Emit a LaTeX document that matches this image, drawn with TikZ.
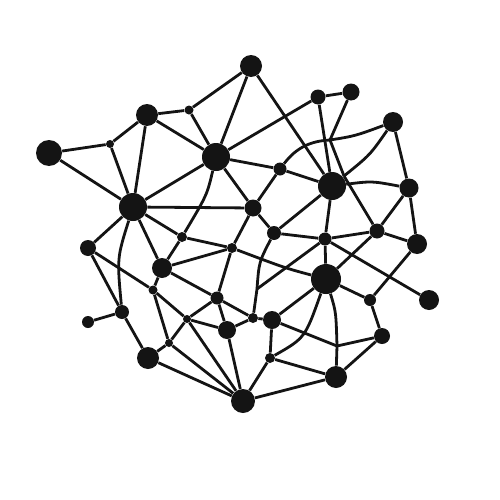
\documentclass[tikz,border=0pt]{standalone}
\definecolor{ink}{HTML}{141414}
\begin{document}
\begin{tikzpicture}[x=0.2mm,y=-0.2mm,
  dot/.style={circle,fill=ink,draw=none,inner sep=0pt,minimum size=#1*0.4mm},
  link/.style={draw=ink,line width=0.56mm}]
\useasboundingbox (0,0) rectangle (500,500);
\node[dot=13] (A) at (49,153) {};
\node[dot=11] (B) at (147,115) {};
\node[dot=4] (C) at (110,144) {};
\node[dot=4.5] (D) at (189,110) {};
\node[dot=11] (E) at (251,66) {};
\node[dot=14] (F) at (216,157) {};
\node[dot=14] (G) at (133,207) {};
\node[dot=8.5] (H) at (253,208) {};
\node[dot=6.5] (I) at (280,169) {};
\node[dot=7.5] (J) at (318,97) {};
\node[dot=8.5] (K) at (351,92) {};
\node[dot=10] (L) at (393,122) {};
\node[dot=14] (M) at (332,186) {};
\node[dot=9.5] (N) at (409,188) {};
\node[dot=7] (O) at (274,233) {};
\node[dot=6.5] (P) at (325,239) {};
\node[dot=7.5] (Q) at (377,231) {};
\node[dot=10] (R) at (417,244) {};
\node[dot=5] (S) at (232,248) {};
\node[dot=5] (T) at (182,237) {};
\node[dot=8] (U) at (88,248) {};
\node[dot=10] (V) at (162,268) {};
\node[dot=4.5] (W) at (153,290) {};
\node[dot=6.5] (X) at (217,298) {};
\node[dot=15] (Y) at (326,279) {};
\node[dot=6] (Z) at (370,300) {};
\node[dot=10] (AA) at (429,300) {};
\node[dot=6] (AB) at (88,322) {};
\node[dot=7] (AC) at (122,312) {};
\node[dot=4] (AD) at (187,319) {};
\node[dot=5] (AE) at (253,318) {};
\node[dot=9] (AF) at (227,330) {};
\node[dot=9] (AG) at (272,320) {};
\node[dot=8] (AH) at (382,336) {};
\node[dot=4] (AI) at (169,343) {};
\node[dot=11] (AJ) at (148,358) {};
\node[dot=5] (AK) at (270,358) {};
\node[dot=11] (AL) at (336,377) {};
\node[dot=12] (AM) at (243,401) {};
\coordinate (j1) at (330,140);
\coordinate (j1b) at (344,176);
\coordinate (j2) at (257,289);
\coordinate (j3) at (337,346);
% straight links
\foreach \a/\b in {A/C,A/G,C/B,C/G,B/D,B/F,B/G,D/E,D/F,E/F,E/M,F/I,F/J,F/H,F/G,
  G/H,G/T,G/U,G/V,H/I,H/O,H/S,I/M,J/K,J/M,K/j1,j1/j1b,j1b/Q,L/N,M/O,M/P,
  N/R,N/Q,O/P,P/Q,P/Y,P/AA,P/j2,Q/R,Q/Y,R/Z,Z/Y,Z/AH,T/S,T/V,V/S,V/X,V/W,U/W,
  U/AC,AC/AB,AC/AJ,S/X,X/AE,X/AF,X/AD,W/AD,W/AI,AD/AI,AD/AF,AD/AM,AI/AJ,AI/AM,
  AJ/AM,AF/AE,AF/AM,AE/AG,AG/Y,AG/AK,AG/j3,j3/AL,j3/AH,AK/AL,AK/AM,AL/AM,AL/AH}
  {\path[link] (\a) -- (\b);}
% curved links
\path[link] (F) .. controls (207,195) .. (T);
\path[link] (G) .. controls (117,258) .. (AC);
\path[link] (I) .. controls (296,148) and (310,141) .. (j1);
\path[link] (j1) .. controls (355,136) .. (L);
\path[link] (L) .. controls (370,155) .. (j1b);
\path[link] (M) .. controls (372,181) .. (N);
\path[link] (S) .. controls (285,268) .. (Y);
\path[link] (O) .. controls (259,262) .. (j2);
\path[link] (j2) -- (AE);
\path[link] (AK) .. controls (305,338) .. (Y);
\path[link] (Y) .. controls (336,312) .. (j3);
\end{tikzpicture}
\end{document}
